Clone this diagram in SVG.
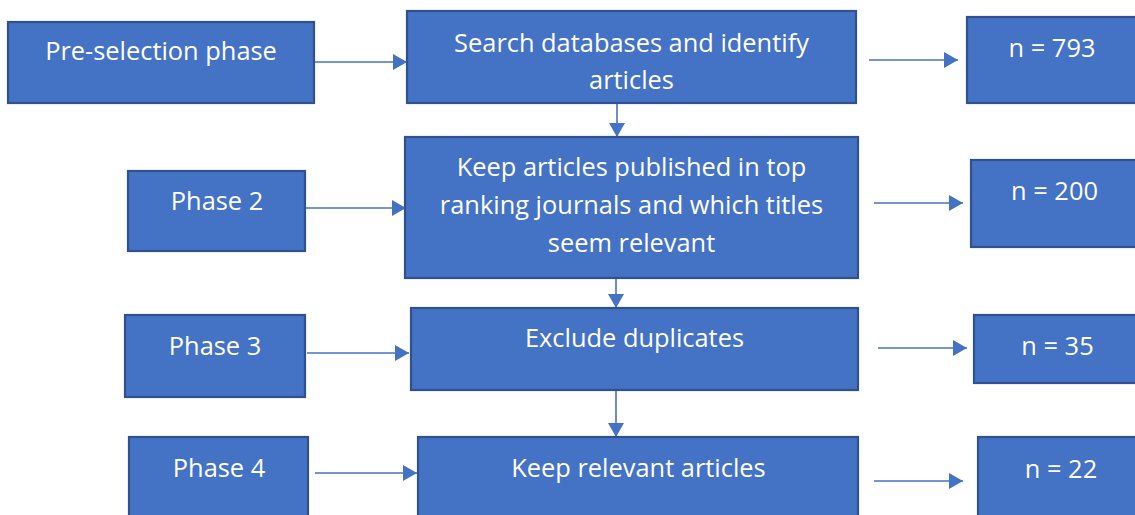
<svg xmlns="http://www.w3.org/2000/svg" width="1135" height="515" viewBox="0 0 1135 515">
  <defs>
    <marker id="arrow" markerUnits="userSpaceOnUse" markerWidth="15" markerHeight="16" refX="14" refY="8" orient="auto">
      <path d="M0,0 L14,8 L0,16 z" fill="#4472C4"/>
    </marker>
    <style>
      .box { fill: #4472C4; stroke: #2F528F; stroke-width: 2.2; }
      .lbl { fill: #FFFFFF; font-family: "Open Sans", "Noto Sans", sans-serif; font-size: 25.4px; text-anchor: middle; }
      .conn line { stroke: #4472C4; stroke-width: 1.6; fill: none; marker-end: url(#arrow); }
    </style>
  </defs>
  <rect width="1135" height="515" fill="#FFFFFF"/>

  <!-- connectors -->
  <g id="connectors" class="conn">
    <line x1="314" y1="62" x2="407" y2="62"/>
    <line x1="869" y1="60" x2="958" y2="60"/>
    <line x1="617" y1="103" x2="617" y2="137"/>
    <line x1="306" y1="208" x2="406" y2="208"/>
    <line x1="874" y1="203" x2="963" y2="203"/>
    <line x1="616" y1="278" x2="616" y2="308"/>
    <line x1="307" y1="353" x2="409" y2="353"/>
    <line x1="878" y1="348" x2="967" y2="348"/>
    <line x1="616" y1="390" x2="616" y2="437"/>
    <line x1="315" y1="473" x2="417" y2="473"/>
    <line x1="874" y1="481" x2="963" y2="481"/>
  </g>

  <!-- left column: phases -->
  <g id="pre-selection">
    <rect class="box" x="8" y="22" width="306" height="81"/>
    <text class="lbl" x="161" y="60">Pre-selection phase</text>
  </g>
  <g id="phase2">
    <rect class="box" x="128" y="171" width="177" height="80"/>
    <text class="lbl" x="217" y="210">Phase 2</text>
  </g>
  <g id="phase3">
    <rect class="box" x="125" y="315" width="180" height="82"/>
    <text class="lbl" x="215" y="355">Phase 3</text>
  </g>
  <g id="phase4">
    <rect class="box" x="129" y="437" width="179" height="90"/>
    <text class="lbl" x="219" y="477">Phase 4</text>
  </g>

  <!-- middle column: steps -->
  <g id="search">
    <rect class="box" x="407" y="11" width="449" height="92"/>
    <text class="lbl" x="631.5" y="52">Search databases and identify</text>
    <text class="lbl" x="631.5" y="89">articles</text>
  </g>
  <g id="keep-top">
    <rect class="box" x="405" y="137" width="453" height="141"/>
    <text class="lbl" x="631.5" y="176">Keep articles published in top</text>
    <text class="lbl" x="631.5" y="214">ranking journals and which titles</text>
    <text class="lbl" x="631.5" y="252">seem relevant</text>
  </g>
  <g id="exclude">
    <rect class="box" x="411" y="308" width="447" height="82"/>
    <text class="lbl" x="634.5" y="347">Exclude duplicates</text>
  </g>
  <g id="keep-relevant">
    <rect class="box" x="418" y="437" width="440" height="90"/>
    <text class="lbl" x="638.5" y="477">Keep relevant articles</text>
  </g>

  <!-- right column: counts -->
  <g id="n793">
    <rect class="box" x="967" y="17" width="172" height="86"/>
    <text class="lbl" x="1052" y="57">n = 793</text>
  </g>
  <g id="n200">
    <rect class="box" x="971" y="160" width="172" height="87"/>
    <text class="lbl" x="1054.5" y="200">n = 200</text>
  </g>
  <g id="n35">
    <rect class="box" x="974" y="315" width="172" height="68"/>
    <text class="lbl" x="1057.5" y="355">n = 35</text>
  </g>
  <g id="n22">
    <rect class="box" x="978" y="437" width="172" height="90"/>
    <text class="lbl" x="1061" y="478">n = 22</text>
  </g>
</svg>
